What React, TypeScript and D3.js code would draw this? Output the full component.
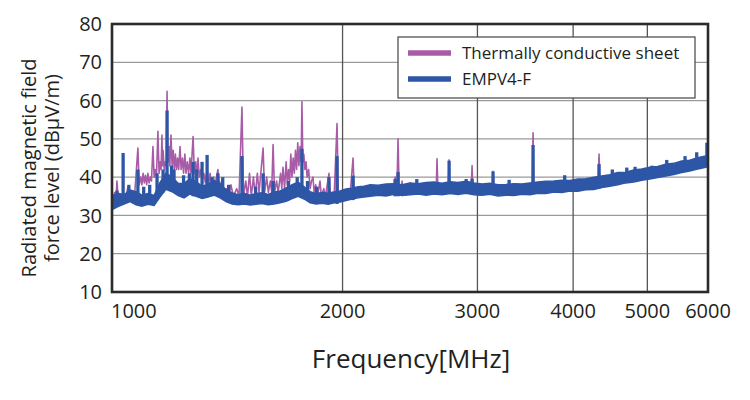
import * as d3 from 'd3';

const W = 750;
const H = 400;
const M = { left: 112, right: 708, top: 24, bottom: 292 };

const xTicks = [1000, 2000, 3000, 4000, 5000, 6000];
const yTicks = [10, 20, 30, 40, 50, 60, 70, 80];

const seriesNames = ['Thermally conductive sheet', 'EMPV4-F'];
const seriesColors = ['#a85ca8', '#2e56a6'];

// EMPV4-F noise floor, [MHz, low dB, high dB]
const empvBand: [number, number, number][] = [
  [1000, 31.5, 35], [1018, 32.3, 35.8], [1037, 33, 35.4], [1056, 33.6, 36.6],
  [1075, 32.8, 36.2], [1094, 32.4, 35.3], [1114, 32.9, 35.7], [1135, 32.6, 35.2],
  [1155, 34.8, 38.6], [1176, 36.8, 41], [1198, 36.2, 40], [1220, 35.2, 38.4],
  [1242, 34.6, 38.3], [1264, 35.6, 39.6], [1288, 35, 38.8], [1311, 34.4, 37.6],
  [1335, 34.8, 38.2], [1359, 35.3, 39.1], [1384, 34.6, 38.3], [1409, 33.6, 36.7],
  [1435, 33, 35.9], [1461, 32.8, 35.4], [1488, 33, 35.8], [1515, 32.7, 35.3],
  [1542, 32.9, 35.7], [1570, 33.1, 35.9], [1599, 32.8, 35.5], [1628, 33, 36.1],
  [1658, 33.3, 36.4], [1688, 33.7, 37.2], [1719, 34.4, 38], [1750, 35, 38.7],
  [1782, 34.3, 37.5], [1814, 33.3, 36.2], [1847, 33, 35.7], [1881, 33.2, 36],
  [1915, 32.9, 35.8], [1950, 33.3, 36.1], [1985, 33.5, 36.4], [2021, 33.9, 36.9],
  [2058, 34.3, 37.1], [2096, 34.6, 37.5], [2134, 34.8, 37.6], [2173, 35, 38],
  [2226, 35.3, 37.9], [2280, 35.1, 38.2], [2335, 35.5, 38.3], [2392, 35.2, 38],
  [2450, 35.4, 38.5], [2510, 35.6, 38.3], [2571, 35.3, 38.6], [2633, 35.6, 38.7],
  [2697, 35.4, 38.4], [2763, 35.7, 38.8], [2830, 35.5, 38.6], [2899, 35.8, 38.9],
  [2969, 35.4, 38.5], [3042, 35.3, 38.2], [3115, 35.5, 38.4], [3191, 35.1, 38],
  [3269, 35.3, 38.1], [3348, 35.2, 38.3], [3430, 35.5, 38.2], [3513, 35.4, 38.5],
  [3598, 35.8, 38.7], [3686, 35.7, 38.9], [3775, 36.1, 39], [3867, 36, 39.2],
  [3961, 36.4, 39.1], [4057, 36.3, 39.5], [4156, 36.7, 39.6], [4257, 36.8, 40],
  [4360, 37.3, 40.3], [4466, 37.6, 40.6], [4575, 38, 41.2], [4686, 38.5, 41.3],
  [4800, 38.7, 41.9], [4917, 39.2, 42.1], [5036, 39.5, 42.6], [5159, 39.9, 42.8],
  [5284, 40.3, 43.4], [5413, 40.7, 43.6], [5544, 41.2, 44.2], [5679, 41.6, 44.4],
  [5817, 42.1, 45.1], [5958, 42.6, 45.5], [6000, 42.8, 45.8],
];

// EMPV4-F narrow peaks, [MHz, base dB, peak dB]
const empvSpikes: [number, number, number][] = [
  [1015, 33, 36.5], [1034, 33, 46.3], [1052, 34, 38], [1081, 33, 42],
  [1100, 34, 37.5], [1120, 34, 38], [1145, 34, 41], [1166, 36, 42],
  [1180, 37, 57.4], [1196, 37, 43], [1205, 37, 42], [1240, 36, 40.5],
  [1262, 36, 41], [1276, 35, 44], [1290, 36, 42], [1311, 35, 44],
  [1331, 35, 45.8], [1350, 35, 40], [1375, 35, 41], [1395, 35, 40],
  [1420, 34, 38], [1478, 33, 45.5], [1540, 33, 37.5], [1575, 33, 41],
  [1623, 33, 39], [1700, 34, 39], [1745, 35, 40], [1770, 35, 47.4],
  [1800, 34, 39], [1850, 33, 37.5], [1920, 33, 40], [1967, 33, 45.5],
  [2064, 34, 40.4], [2342, 35, 39.5], [2363, 35, 41.3], [2500, 36, 39.5],
  [2657, 36, 38.5], [2755, 36, 44.3], [2900, 36, 39.5], [2952, 36, 39.6],
  [3144, 36, 41.5], [3300, 36, 39.3], [3546, 36, 48.4], [3900, 37, 40.5],
  [4324, 37, 43.4], [4500, 38, 42], [4700, 39, 42.5], [4819, 39, 42.7],
  [5071, 40, 43], [5300, 41, 44.5], [5600, 42, 45.5], [5800, 43, 46.5],
  [5980, 43, 49],
];

// Thermally conductive sheet trace, [MHz, dB]
const sheetTrace: [number, number][] = [
  [1000, 34], [1008, 36], [1012, 34], [1015, 39], [1019, 34], [1030, 35],
  [1040, 34], [1049, 37.4], [1055, 35], [1062, 36], [1070, 35], [1081, 47.6],
  [1085, 38], [1090, 40], [1094, 38], [1098, 41], [1102, 38.5], [1106, 40.5],
  [1110, 38], [1114, 41], [1118, 38.5], [1122, 40], [1126, 39], [1131, 48],
  [1135, 40], [1139, 42], [1143, 40], [1148, 52], [1152, 41], [1156, 44],
  [1159, 42], [1162, 51], [1164, 43], [1166, 47], [1170, 42], [1173, 44],
  [1177, 43], [1180, 62.4], [1183, 44], [1187, 48], [1190, 43], [1194, 51],
  [1198, 43], [1202, 47], [1206, 42], [1210, 46], [1214, 42], [1218, 45],
  [1222, 42], [1227, 48], [1231, 42], [1236, 45], [1240, 41], [1245, 46],
  [1249, 41], [1254, 44], [1259, 41], [1264, 45], [1268, 41], [1276, 50.6],
  [1281, 41], [1286, 44], [1290, 40], [1295, 45], [1300, 40], [1306, 42],
  [1311, 39], [1318, 41], [1324, 38.5], [1331, 42], [1337, 38], [1343, 41],
  [1350, 38], [1357, 40], [1363, 38], [1375, 42], [1382, 37], [1390, 39],
  [1398, 36], [1410, 37], [1420, 35], [1430, 38], [1440, 35], [1455, 37],
  [1465, 35], [1478, 58.3], [1485, 35], [1495, 39], [1503, 35], [1512, 41],
  [1520, 35], [1530, 40], [1538, 35], [1548, 41], [1556, 36], [1575, 47.6],
  [1582, 36], [1592, 40], [1600, 36], [1610, 39], [1616, 36], [1623, 48.5],
  [1630, 36], [1640, 39], [1648, 36], [1660, 41], [1666, 37], [1672, 42.6],
  [1680, 37], [1688, 44], [1694, 38], [1700, 42], [1706, 39], [1712, 46],
  [1718, 40], [1724, 45], [1730, 41], [1736, 47], [1742, 42], [1748, 49],
  [1754, 43], [1760, 48], [1766, 44], [1770, 59.7], [1775, 44], [1780, 46],
  [1786, 42], [1792, 44], [1798, 40], [1806, 42], [1814, 37], [1822, 39],
  [1830, 40], [1836, 36], [1845, 38], [1855, 35], [1869, 39], [1876, 35],
  [1890, 37], [1900, 35], [1920, 41], [1928, 35], [1940, 36], [1950, 35],
  [1967, 54], [1975, 35], [1990, 36], [2010, 35], [2030, 37], [2045, 35],
  [2064, 45], [2072, 36], [2100, 36], [2150, 37], [2334, 36.5], [2342, 40],
  [2350, 36.5], [2355, 36.5], [2363, 50], [2371, 36.5], [2386, 36.5], [2392, 39],
  [2398, 36.5], [2444, 36.5], [2450, 38.5], [2456, 36.5], [2557, 36.5], [2563, 38.5],
  [2569, 36.5], [2580, 36.5], [2586, 38.3], [2592, 36.5], [2650, 36.5], [2657, 44.8],
  [2664, 36.5], [2747, 36.5], [2755, 44.5], [2763, 36.5], [2944, 36.5], [2952, 43],
  [2960, 36.5], [3135, 36.5], [3144, 41.5], [3153, 36.5], [3453, 36.5], [3462, 38],
  [3471, 36.5], [3536, 36.5], [3546, 51.6], [3556, 36.5], [3800, 37.5], [4312, 38.5],
  [4324, 46], [4336, 38.5], [4600, 39.5], [5000, 41], [5500, 42.5], [6000, 44],
];

const x = d3.scaleLog().domain([1000, 6000]).range([M.left, M.right]);
const y = d3.scaleLinear().domain([10, 80]).range([M.bottom, M.top]);

const bandPath = d3
  .area<[number, number, number]>()
  .x((d) => x(d[0]))
  .y0((d) => y(d[1]))
  .y1((d) => y(d[2]))(empvBand);

const sheetPath = d3
  .line<[number, number]>()
  .x((d) => x(d[0]))
  .y((d) => y(d[1]))(sheetTrace);

const font = '"Open Sans", "Noto Sans", sans-serif';
const ink = '#231f20';

export default function App() {
  return (
    <svg
      width={W}
      height={H}
      style={{ position: 'absolute', left: 0, top: 0, background: '#fff' }}
      fontFamily={font}
    >
      <defs>
        <clipPath id="plot">
          <rect x={M.left} y={M.top} width={M.right - M.left} height={M.bottom - M.top} />
        </clipPath>
      </defs>

      {/* horizontal grid */}
      {yTicks.slice(1, -1).map((t) => (
        <line key={t} x1={M.left} x2={M.right} y1={y(t)} y2={y(t)} stroke="#9a9a9a" strokeWidth={1.2} />
      ))}
      {/* vertical grid */}
      {xTicks.slice(1, -1).map((t) => (
        <line key={t} x1={x(t)} x2={x(t)} y1={M.top} y2={M.bottom} stroke="#555" strokeWidth={1.3} />
      ))}

      <g clipPath="url(#plot)">
        <path d={sheetPath ?? ''} fill="none" stroke={seriesColors[0]} strokeWidth={1.6} strokeLinejoin="round" />
        <path d={bandPath ?? ''} fill={seriesColors[1]} stroke={seriesColors[1]} strokeWidth={1.5} />
        {empvSpikes.map(([f, b, p]) => (
          <line key={f} x1={x(f)} x2={x(f)} y1={y(b)} y2={y(p)} stroke={seriesColors[1]} strokeWidth={3.3} />
        ))}
      </g>

      {/* frame */}
      <rect
        x={M.left}
        y={M.top}
        width={M.right - M.left}
        height={M.bottom - M.top}
        fill="none"
        stroke="#2b2b2b"
        strokeWidth={2.6}
      />

      {/* y ticks */}
      {yTicks.map((t) => (
        <text key={t} x={102} y={y(t)} dy="0.36em" textAnchor="end" fontSize={20} fill={ink}>
          {t}
        </text>
      ))}
      {/* x ticks */}
      {xTicks.map((t, i) => (
        <text
          key={t}
          x={i === 0 ? M.left - 1 : x(t)}
          y={318}
          textAnchor={i === 0 ? 'start' : 'middle'}
          fontSize={20}
          fill={ink}
        >
          {t}
        </text>
      ))}

      <text x={411} y={368} textAnchor="middle" fontSize={26} fill={ink}>
        Frequency[MHz]
      </text>
      <g transform="translate(36,168) rotate(-90)">
        <text x={0} y={0} textAnchor="middle" fontSize={20} fill={ink}>
          Radiated magnetic field
        </text>
        <text x={0} y={23} textAnchor="middle" fontSize={20} fill={ink}>
          force level (dBµV/m)
        </text>
      </g>

      {/* legend */}
      <rect x={398} y={37} width={297} height={61} fill="#fff" stroke="#444" strokeWidth={1.2} />
      {seriesNames.map((name, i) => (
        <g key={name} transform={`translate(408,${53 + i * 26})`}>
          <line x1={0} x2={43} y1={0} y2={0} stroke={seriesColors[i]} strokeWidth={5.5} />
          <text x={54} y={0} dy="0.36em" fontSize={17} fill={ink}>
            {name}
          </text>
        </g>
      ))}
    </svg>
  );
}
